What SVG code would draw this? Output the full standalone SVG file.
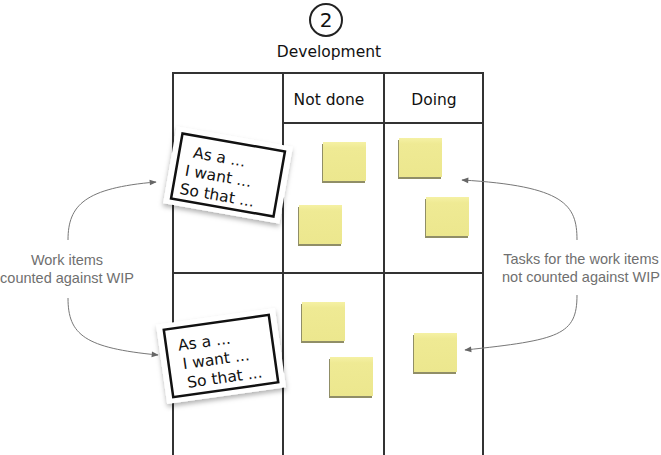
<svg xmlns="http://www.w3.org/2000/svg" xmlns:xlink="http://www.w3.org/1999/xlink" width="661" height="455" viewBox="0 0 661 455">
  <style>
    .grid { stroke: #333; stroke-width: 2; fill: none; stroke-linecap: square; }
    .hand { font-family: "DejaVu Sans", "Liberation Sans", sans-serif; fill: #111; }
    .label { font-family: "Liberation Sans", Arial, sans-serif; font-size: 14.5px; fill: #6f6f6f; text-anchor: middle; }
    .conn { stroke: #777; stroke-width: 1; fill: none; marker-end: url(#arrow); }
    .frame { fill: none; stroke: #111; stroke-width: 2.5; }
    .cardtext { font-size: 15.5px; }
  </style>
  <defs>
    <marker id="arrow" viewBox="0 0 10 10" refX="9" refY="5" markerWidth="9" markerHeight="7" orient="auto" markerUnits="userSpaceOnUse">
      <path d="M0,1 L10,5 L0,9 Z" fill="#666"/>
    </marker>
    <linearGradient id="noteGrad" x1="0" y1="0" x2="0" y2="1">
      <stop offset="0" stop-color="#f5f1a4"/>
      <stop offset="0.15" stop-color="#efea94"/>
      <stop offset="1" stop-color="#ece78e"/>
    </linearGradient>
    <filter id="cardShadow" x="-20%" y="-20%" width="140%" height="150%">
      <feDropShadow dx="0" dy="3" stdDeviation="2.5" flood-color="#000" flood-opacity="0.3"/>
    </filter>
    <g id="note">
      <rect x="-1" y="2" width="43" height="39" fill="#7d7a4c" opacity="0.85"/>
      <rect x="0" y="0" width="43" height="39" fill="url(#noteGrad)"/>
    </g>
  </defs>

  <rect width="661" height="455" fill="#ffffff"/>

  <g id="header">
    <circle cx="326" cy="20" r="16" fill="none" stroke="#222" stroke-width="2"/>
    <text x="326" y="27" class="hand" font-size="20" text-anchor="middle">2</text>
    <text x="329" y="57" class="hand" font-size="15.5" text-anchor="middle">Development</text>
  </g>

  <g id="board">
    <path class="grid" d="M173,73 H483 M173,73 V455 M283,73 V455 M384,73 V455 M483,73 V455 M283,123 H483 M173,273 H483"/>
    <text x="329" y="105" class="hand" font-size="15.5" text-anchor="middle">Not done</text>
    <text x="434" y="105" class="hand" font-size="15.5" text-anchor="middle">Doing</text>
  </g>

  <g id="notes">
    <use xlink:href="#note" x="323" y="142"/>
    <use xlink:href="#note" x="299" y="205"/>
    <use xlink:href="#note" x="399" y="138"/>
    <use xlink:href="#note" x="426" y="197"/>
    <use xlink:href="#note" x="302" y="302"/>
    <use xlink:href="#note" x="330" y="357"/>
    <use xlink:href="#note" x="414" y="333"/>
  </g>

  <g id="card-top" transform="translate(228,175) rotate(10)">
    <rect x="-59" y="-39" width="118" height="78" fill="#fff" filter="url(#cardShadow)"/>
    <rect class="frame" x="-52" y="-33" width="104" height="66"/>
    <text class="hand cardtext" x="-38" y="-11">As a ...</text>
    <text class="hand cardtext" x="-43" y="8">I want ...</text>
    <text class="hand cardtext" x="-45" y="27">So that ...</text>
  </g>

  <g id="card-bottom" transform="translate(221,356) rotate(-8)">
    <rect x="-60" y="-40" width="120" height="80" fill="#fff" filter="url(#cardShadow)"/>
    <rect class="frame" x="-53" y="-34" width="106" height="68"/>
    <text class="hand cardtext" x="-41" y="-11">As a ...</text>
    <text class="hand cardtext" x="-39" y="8">I want ...</text>
    <text class="hand cardtext" x="-37" y="27">So that ...</text>
  </g>

  <g id="label-left">
    <text class="label" x="67" y="265">Work items</text>
    <text class="label" x="67" y="283">counted against WIP</text>
  </g>
  <g id="label-right">
    <text class="label" x="581" y="264">Tasks for the work items</text>
    <text class="label" x="581" y="282">not counted against WIP</text>
  </g>

  <g id="connectors">
    <path class="conn" d="M68,240 C68,205 85,188 156,182"/>
    <path class="conn" d="M68,298 C68,335 85,348 158,355"/>
    <path class="conn" d="M577,240 C577,205 565,186 462,180"/>
    <path class="conn" d="M577,295 C577,335 560,340 465,350"/>
  </g>
</svg>
